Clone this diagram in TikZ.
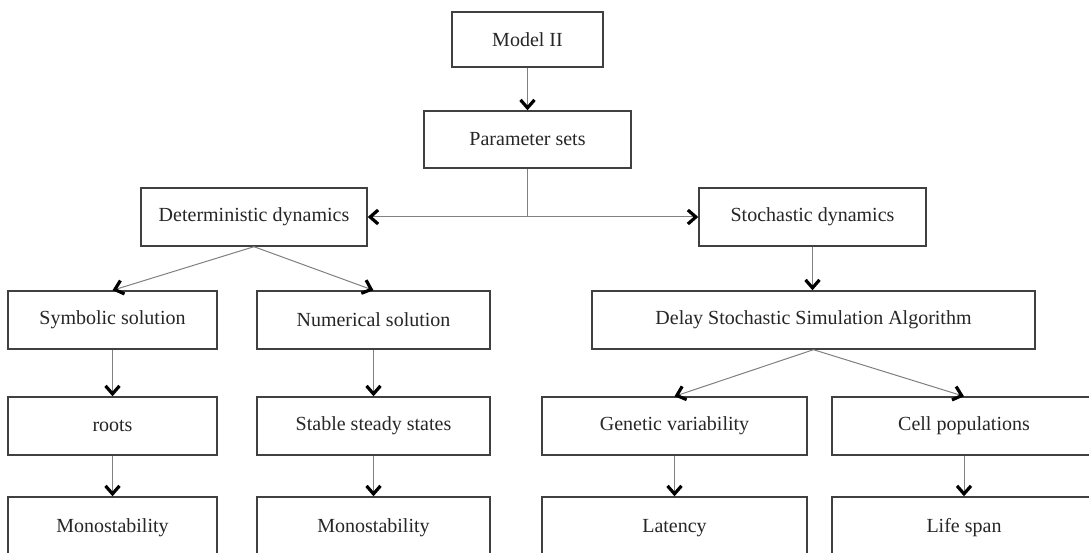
\documentclass[tikz,border=0pt]{standalone}
\usepackage{fontspec}
\setmainfont{Liberation Serif}
\usetikzlibrary{arrows.meta}

\begin{document}
\begin{tikzpicture}[x=1pt,y=-1pt,
    chev/.tip={Straight Barb[length=8pt,width=14pt,line width=3.2pt,color=black]},
    box/.style={draw=black!75,line width=1.4pt,inner sep=0pt,minimum height=58pt,
        text=black!85,font=\fontsize{20}{24}\selectfont},
    arr/.style={draw=black!50,line width=1pt,-chev}]
        \useasboundingbox[fill=white] (0,0) rectangle (1089,553);
        \clip (0,0) rectangle (1089,553);
        % top of the tree
        \node[box,minimum width=151pt,minimum height=55pt] (model) at (527.5,39.5) {Model II};
        \node[box,minimum width=207pt,minimum height=57pt] (params) at (527.5,139.5) {Parameter sets};
        \node[box,minimum width=226pt] (det) at (254,217) {Deterministic dynamics};
        \node[box,minimum width=227pt] (stoch) at (812.5,217) {Stochastic dynamics};
        \coordinate (split) at (527.5,217);
        % deterministic side
        \node[box,minimum width=209pt] (sym) at (112.5,320) {Symbolic solution};
        \node[box,minimum width=233pt] (num) at (373.5,320) {Numerical solution};
        \node[box,minimum width=209pt] (roots) at (112.5,426) {roots};
        \node[box,minimum width=233pt] (steady) at (373.5,426) {Stable steady states};
        \node[box,minimum width=209pt,minimum height=62pt] (mono1) at (112.5,528) {Monostability};
        \node[box,minimum width=233pt,minimum height=62pt] (mono2) at (373.5,528) {Monostability};
        % stochastic side
        \node[box,minimum width=443pt] (dssa) at (813.5,320) {Delay Stochastic Simulation Algorithm};
        \node[box,minimum width=265pt] (genvar) at (674.5,426) {Genetic variability};
        \node[box,minimum width=264pt] (cellpop) at (964,426) {Cell populations};
        \node[box,minimum width=265pt,minimum height=62pt] (latency) at (674.5,528) {Latency};
        \node[box,minimum width=264pt,minimum height=62pt] (lifespan) at (964,528) {Life span};

        \draw[arr] (model) -- (params);
        \draw[draw=black!50,line width=1pt] (params) -- (split);
        \draw[arr] (split) -- (det);
        \draw[arr] (split) -- (stoch);
        \draw[arr] (det.south) -- (sym.north);
        \draw[arr] (det.south) -- (num.north);
        \draw[arr] (sym) -- (roots);
        \draw[arr] (num) -- (steady);
        \draw[arr] (roots) -- (mono1);
        \draw[arr] (steady) -- (mono2);
        \draw[arr] (stoch) -- (stoch |- dssa.north);
        \draw[arr] (dssa.south) -- (genvar.north);
        \draw[arr] (dssa.south) -- (cellpop.north);
        \draw[arr] (genvar) -- (latency);
        \draw[arr] (cellpop) -- (lifespan);
    \end{tikzpicture}
\end{document}
